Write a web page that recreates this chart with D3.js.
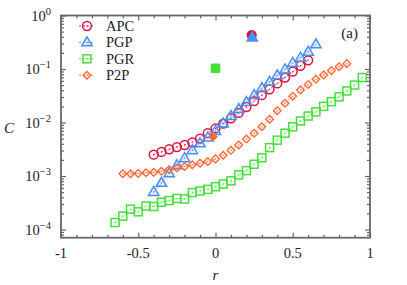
<!DOCTYPE html>
<html><head><meta charset="utf-8">
<script src="https://cdn.jsdelivr.net/npm/d3@7"></script>
<style>
body{margin:0;background:#fff;}
text{font-family:"Liberation Serif","DejaVu Serif",serif;fill:#222;}
</style></head>
<body><svg id="c" width="407" height="285"></svg>
<script>
// ---- data ----
const rAPC = [-0.40,-0.35,-0.30,-0.25,-0.20,-0.15,-0.10,-0.05,0.00,0.05,0.10,0.15,0.20,0.25,0.30,0.35,0.40,0.45,0.50,0.55,0.60];
const cAPC = [0.00251,0.00282,0.00316,0.00347,0.00380,0.00427,0.00501,0.00631,0.00776,0.00955,0.0120,0.0151,0.0195,0.0251,0.0324,0.0417,0.0537,0.0692,0.0891,0.115,0.145];
const rPGP = [-0.40,-0.35,-0.30,-0.25,-0.20,-0.15,-0.10,-0.05,0.00,0.05,0.10,0.15,0.20,0.25,0.30,0.35,0.40,0.45,0.50,0.55,0.60,0.65];
const cPGP = [0.000501,0.000741,0.00112,0.00158,0.00214,0.00302,0.00407,0.00525,0.00692,0.00955,0.0132,0.0178,0.0240,0.0324,0.0437,0.0575,0.0759,0.0977,0.129,0.162,0.209,0.288];
const rPGR = [-0.65,-0.60,-0.55,-0.50,-0.45,-0.40,-0.35,-0.30,-0.25,-0.20,-0.15,-0.10,-0.05,0.00,0.05,0.10,0.15,0.20,0.25,0.30,0.35,0.40,0.45,0.50,0.55,0.60,0.65,0.70,0.75,0.80,0.85,0.90,0.95];
const cPGR = [0.000135,0.000178,0.000240,0.000214,0.000275,0.000269,0.000324,0.000347,0.000380,0.000372,0.000490,0.000525,0.000562,0.000631,0.000708,0.000813,0.00105,0.00126,0.00166,0.00219,0.00339,0.00468,0.00631,0.00832,0.0107,0.0132,0.0158,0.0200,0.0245,0.0302,0.0389,0.0501,0.0692];
const rP2P = [-0.60,-0.55,-0.50,-0.45,-0.40,-0.35,-0.30,-0.25,-0.20,-0.15,-0.10,-0.05,0.00,0.05,0.10,0.15,0.20,0.25,0.30,0.35,0.40,0.45,0.50,0.55,0.60,0.65,0.70,0.75,0.80,0.85];
const cP2P = [0.00110,0.00110,0.00112,0.00115,0.00117,0.00123,0.00132,0.00141,0.00151,0.00162,0.00174,0.00186,0.00209,0.00245,0.00302,0.00380,0.00490,0.00631,0.00832,0.0115,0.0166,0.0229,0.0309,0.0407,0.0513,0.0646,0.0776,0.0933,0.110,0.126];
// single filled points (empirical values)
const names = ["APC","PGP","PGR","P2P"];
const rSingle = [0.234, 0.238, 0.0, -0.015];
const cSingle = [0.43, 0.385, 0.103, 0.0054];
const xTicks = [-1,-0.5,0,0.5,1];
const xTickLabels = ["-1","-0.5","0","0.5","1"];
const yTicks = [1e-4,1e-3,1e-2,1e-1,1];
const yTickExp = ["−4","−3","−2","−1","0"];

// ---- layout ----
const svg = d3.select("#c");
const L=61, R=370, T=15.5, B=237.7;
const x = d3.scaleLinear().domain([-1,1]).range([L,R]);
const y = d3.scaleLog().domain([7.03e-5,1]).range([B,T]);
const colors = {APC:"#dc143c", PGP:"#4a8ff0", PGR:"#45e03a", P2P:"#ff6a3a"};

const series = [
  {name:"APC", r:rAPC, c:cAPC, sym:"circle"},
  {name:"PGP", r:rPGP, c:cPGP, sym:"triangle"},
  {name:"PGR", r:rPGR, c:cPGR, sym:"square"},
  {name:"P2P", r:rP2P, c:cP2P, sym:"diamond"}
];

function marker(g, sym, col, filled){
  if(sym==="circle"){
    g.append("circle").attr("r",4.4).attr("fill",filled?col:"none").attr("stroke",col).attr("stroke-width",1.5);
  } else if(sym==="triangle"){
    g.append("path").attr("d","M0,-5.6L5.2,3.4L-5.2,3.4Z").attr("fill",filled?col:"rgba(74,143,240,0.12)").attr("stroke",col).attr("stroke-width",1.5).attr("stroke-linejoin","miter");
  } else if(sym==="square"){
    g.append("rect").attr("x",-4).attr("y",-4).attr("width",8).attr("height",8).attr("fill",filled?col:"none").attr("stroke",col).attr("stroke-width",1.5);
  } else {
    g.append("path").attr("d","M0,-3.8L3.8,0L0,3.8L-3.8,0Z").attr("fill",filled?col:"none").attr("stroke",col).attr("stroke-width",1.4);
  }
  if(!filled) g.append("circle").attr("r",0.75).attr("fill",col);
}

// axes frame
const axG = svg.append("g");
const minorX = d3.range(-1,1.0001,0.1).filter(v=>Math.abs(v*2-Math.round(v*2))>1e-6);
const minorY = [];
for(let e=-5;e<0;e++) for(let k=2;k<=9;k++){const v=k*Math.pow(10,e); if(v>7.03e-5 && v<1) minorY.push(v);}

function styleAxis(g){ g.select(".domain").remove(); g.selectAll("line").attr("stroke","#666").attr("stroke-width",1.2); }
axG.append("g").attr("transform",`translate(0,${B})`).call(d3.axisBottom(x).tickValues(xTicks).tickSize(-5).tickFormat("")).call(styleAxis);
axG.append("g").attr("transform",`translate(0,${B})`).call(d3.axisBottom(x).tickValues(minorX).tickSize(-3).tickFormat("")).call(styleAxis);
axG.append("g").attr("transform",`translate(0,${T})`).call(d3.axisTop(x).tickValues(xTicks).tickSize(-5).tickFormat("")).call(styleAxis);
axG.append("g").attr("transform",`translate(0,${T})`).call(d3.axisTop(x).tickValues(minorX).tickSize(-3).tickFormat("")).call(styleAxis);
axG.append("g").attr("transform",`translate(${L},0)`).call(d3.axisLeft(y).tickValues(yTicks).tickSize(-5).tickFormat("")).call(styleAxis);
axG.append("g").attr("transform",`translate(${L},0)`).call(d3.axisLeft(y).tickValues(minorY).tickSize(-3).tickFormat("")).call(styleAxis);
axG.append("g").attr("transform",`translate(${R},0)`).call(d3.axisRight(y).tickValues(yTicks).tickSize(-5).tickFormat("")).call(styleAxis);
axG.append("g").attr("transform",`translate(${R},0)`).call(d3.axisRight(y).tickValues(minorY).tickSize(-3).tickFormat("")).call(styleAxis);
axG.append("rect").attr("x",L).attr("y",T).attr("width",R-L).attr("height",B-T).attr("fill","none").attr("stroke","#666").attr("stroke-width",1.8);

// tick labels
xTicks.forEach((v,i)=>{
  svg.append("text").attr("x",x(v)).attr("y",B+20).attr("text-anchor","middle").attr("font-size",14.5).text(xTickLabels[i]);
});
yTicks.forEach((v,i)=>{
  const t = svg.append("text").attr("x",51).attr("y",y(v)+5).attr("text-anchor","end").attr("font-size",14.5);
  t.append("tspan").text("10");
  t.append("tspan").attr("dy",-6).attr("font-size",10.5).text(yTickExp[i]);
});
svg.append("text").attr("x",x(0)).attr("y",280).attr("text-anchor","middle").attr("font-size",15).attr("font-style","italic").text("r");
svg.append("text").attr("x",9).attr("y",133).attr("text-anchor","middle").attr("font-size",15).attr("font-style","italic").text("C");
svg.append("text").attr("x",358).attr("y",38).attr("text-anchor","end").attr("font-size",15).text("(a)");

// series
const line = d3.line().x(d=>x(d[0])).y(d=>y(d[1]));
series.forEach(s=>{
  const col = colors[s.name];
  const pts = s.r.map((r,i)=>[r,s.c[i]]);
  svg.append("path").attr("d",line(pts)).attr("fill","none").attr("stroke",col).attr("stroke-width",0.9).attr("stroke-dasharray","2,2").attr("opacity",0.8);
  pts.forEach(p=>{
    const g = svg.append("g").attr("transform",`translate(${x(p[0])},${y(p[1])})`);
    marker(g, s.sym, col, false);
  });
});
// single filled points
series.forEach((s,i)=>{
  const g = svg.append("g").attr("transform",`translate(${x(rSingle[i])},${y(cSingle[i])})`);
  marker(g, s.sym, colors[s.name], true);
});

// legend
series.forEach((s,i)=>{
  const yy = 26 + i*16.4;
  const col = colors[s.name];
  svg.append("line").attr("x1",79).attr("x2",95).attr("y1",yy).attr("y2",yy).attr("stroke",col).attr("stroke-width",0.9).attr("stroke-dasharray","2,2");
  const g = svg.append("g").attr("transform",`translate(87,${yy})`);
  marker(g, s.sym, col, false);
  svg.append("text").attr("x",106).attr("y",yy+5).attr("font-size",14.5).text(s.name);
});
</script></body></html>
